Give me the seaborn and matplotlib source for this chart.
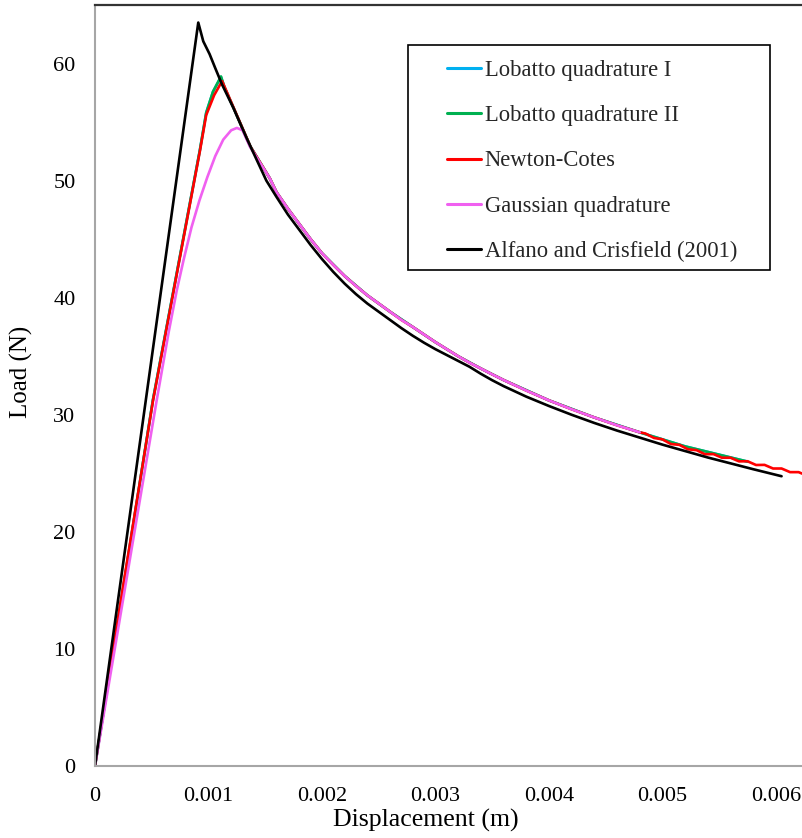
import matplotlib
matplotlib.use("Agg")
import matplotlib.pyplot as plt
import seaborn as sns
import pandas as pd
from matplotlib.patches import Rectangle

# Load-displacement curves (displacement in m, load in N)
lobatto1_x = [0.0, 0.000511, 0.000924, 0.00098, 0.00104, 0.00111, 0.00114,
              0.00137, 0.00154, 0.0016, 0.0017, 0.0018, 0.0019, 0.0020,
              0.0022, 0.0024, 0.0026, 0.0028, 0.0030, 0.0032, 0.0034,
              0.0036, 0.0040, 0.0044, 0.0048, 0.0052, 0.00575]
lobatto1_y = [0.0, 31.3, 52.6, 55.8, 57.6, 58.85, 58.0,
              52.9, 50.2, 49.0, 47.6, 46.3, 45.0, 43.8,
              41.85, 40.2, 38.8, 37.5, 36.2, 35.0, 33.95,
              32.97, 31.23, 29.77, 28.5, 27.3, 26.0]

lobatto2_x = [0.0, 0.000511, 0.000924, 0.00098, 0.00104, 0.00111, 0.00114,
              0.00137, 0.00154, 0.0016, 0.0017, 0.0018, 0.0019, 0.0020,
              0.0022, 0.0024, 0.0026, 0.0028, 0.0030, 0.0032, 0.0034,
              0.0036, 0.0040, 0.0044, 0.0048, 0.0052, 0.00575]
lobatto2_y = [0.0, 31.3, 52.6, 55.8, 57.6, 58.9, 58.0,
              52.9, 50.2, 49.0, 47.6, 46.3, 45.0, 43.8,
              41.85, 40.2, 38.8, 37.5, 36.2, 35.0, 33.95,
              32.97, 31.23, 29.77, 28.5, 27.3, 26.0]

newton_x = [0.0, 0.00025, 0.000511, 0.000924, 0.00098, 0.00105, 0.00112,
            0.00137, 0.00154, 0.0016, 0.0017, 0.0018, 0.0019, 0.0020,
            0.0021, 0.0022, 0.0023, 0.0024, 0.0025, 0.0026, 0.0027, 0.0028,
            0.0029, 0.0030, 0.0031, 0.0032, 0.0033, 0.0034, 0.0035, 0.0036,
            0.0038, 0.0040, 0.0042, 0.0044, 0.0046, 0.0048, 0.00485, 0.004925,
            0.0050, 0.005075, 0.00515, 0.005225, 0.0053, 0.005375, 0.00545,
            0.005525, 0.0056, 0.005675, 0.00575, 0.005825, 0.0059, 0.005975,
            0.00605, 0.006125, 0.0062, 0.00625]
newton_y = [0.0, 15.5, 31.2, 52.5, 55.6, 57.3, 58.5,
            52.9, 50.2, 49.0, 47.6, 46.3, 45.0, 43.8,
            42.8, 41.85, 41.0, 40.2, 39.5, 38.8, 38.1, 37.5,
            36.85, 36.2, 35.6, 35.0, 34.45, 33.95, 33.45, 32.97,
            32.07, 31.23, 30.47, 29.77, 29.1, 28.5, 28.4, 28.02,
            27.9, 27.5, 27.43, 27.05, 26.98, 26.63, 26.64,
            26.33, 26.33, 26.02, 26.03, 25.71, 25.72, 25.41,
            25.41, 25.10, 25.10, 24.90]

gauss_x = [0.0, 0.000543, 0.00065, 0.00072, 0.00078, 0.00085, 0.00092,
           0.00099, 0.00106, 0.00113, 0.0012, 0.00125, 0.0013, 0.001365,
           0.00154, 0.0016, 0.0017, 0.0018, 0.0019, 0.0020, 0.0021, 0.0022,
           0.0023, 0.0024, 0.0025, 0.0026, 0.0027, 0.0028, 0.0029, 0.0030,
           0.0031, 0.0032, 0.0033, 0.0034, 0.0035, 0.0036, 0.0038, 0.0040,
           0.0042, 0.0044, 0.0046, 0.0048]
gauss_y = [0.0, 31.2, 37.1, 40.6, 43.2, 46.0, 48.3,
           50.3, 52.1, 53.5, 54.3, 54.5, 54.3, 52.9,
           50.2, 49.0, 47.6, 46.3, 45.0, 43.8, 42.8, 41.85,
           41.0, 40.2, 39.5, 38.8, 38.1, 37.5, 36.85, 36.2,
           35.6, 35.0, 34.45, 33.95, 33.45, 32.97, 32.07, 31.23,
           30.47, 29.77, 29.1, 28.5]

alfano_x = [0.0, 0.00091, 0.000954, 0.00101, 0.00106, 0.00112, 0.00122,
            0.001335, 0.00151, 0.0016, 0.0017, 0.0018, 0.0019, 0.0020,
            0.0021, 0.0022, 0.0023, 0.0024, 0.0025, 0.0026, 0.0027, 0.0028,
            0.0029, 0.0030, 0.0031, 0.0032, 0.0033, 0.0034, 0.0035, 0.0036,
            0.0038, 0.0040, 0.0042, 0.0044, 0.0046, 0.0048, 0.0050, 0.0052,
            0.0054, 0.0056, 0.0058, 0.00605]
alfano_y = [0.0, 63.5, 61.9, 60.8, 59.6, 58.2, 56.2,
            53.65, 50.0, 48.6, 47.1, 45.8, 44.5, 43.3,
            42.2, 41.2, 40.3, 39.5, 38.8, 38.1, 37.4, 36.75,
            36.15, 35.6, 35.1, 34.6, 34.1, 33.5, 32.95, 32.45,
            31.55, 30.75, 30.0, 29.3, 28.65, 28.05, 27.45, 26.9,
            26.35, 25.85, 25.35, 24.75]

series_names = ["Lobatto quadrature I", "Lobatto quadrature II", "Newton-Cotes",
                "Gaussian quadrature", "Alfano and Crisfield (2001)"]
series_colors = ["#00b0f0", "#00b050", "#ff0000", "#f060f0", "#000000"]

x_ticks = [0.0, 0.001, 0.002, 0.003, 0.004, 0.005, 0.006]
x_tick_labels = ["0", "0.001", "0.002", "0.003", "0.004", "0.005", "0.006"]
y_ticks = [0, 10, 20, 30, 40, 50, 60]

frames = []
for name, xs, ys in zip(series_names,
                        [lobatto1_x, lobatto2_x, newton_x, gauss_x, alfano_x],
                        [lobatto1_y, lobatto2_y, newton_y, gauss_y, alfano_y]):
    frames.append(pd.DataFrame({"Displacement": xs, "Load": ys, "Series": name}))
df = pd.concat(frames, ignore_index=True)

sns.set_theme(style="white")
plt.rcParams["font.family"] = ["Liberation Serif", "DejaVu Serif"]

fig = plt.figure(figsize=(8.02, 8.38), dpi=100)
ax = fig.add_axes([95 / 802, 1 - 766 / 838, 707 / 802, 761 / 838])

sns.lineplot(data=df, x="Displacement", y="Load", hue="Series",
             hue_order=series_names, palette=series_colors,
             sort=False, estimator=None, linewidth=1.9, ax=ax, legend=False)

ax.set_xlim(0, 0.00623)
ax.set_ylim(0, 65)
ax.set_xticks(x_ticks)
ax.set_xticklabels(x_tick_labels)
ax.set_yticks(y_ticks)
ax.tick_params(axis="both", length=0, labelsize=16, colors="#000000")
ax.tick_params(axis="x", pad=15)
ax.tick_params(axis="y", pad=14)

ax.set_xlabel("Displacement (m)", fontsize=18.6, color="#000000")
ax.set_ylabel("Load (N)", fontsize=18, color="#000000")
ax.xaxis.set_label_coords((426 - 95) / 707, -0.056)
ax.yaxis.set_label_coords((33 - 95) / 707, (766 - 372) / 761)

for side in ["left", "bottom"]:
    ax.spines[side].set_color("#a6a6a6")
    ax.spines[side].set_linewidth(1.5)
ax.spines["top"].set_color("#333333")
ax.spines["top"].set_linewidth(1.6)
ax.spines["right"].set_visible(False)

# Legend: entries plus a framed box
handles = [plt.Line2D([0], [0], color=c, linewidth=2.2) for c in series_colors]
leg = ax.legend(handles, series_names, loc="upper left",
                bbox_to_anchor=((447 - 95) / 707, (766 - 60) / 761),
                frameon=False, fontsize=16.3, borderpad=0, borderaxespad=0,
                handlelength=1.48, handletextpad=0.18, labelspacing=1.07)
ax.add_patch(Rectangle(((408 - 95) / 707, (766 - 270) / 761),
                       (770 - 408) / 707, (270 - 45) / 761,
                       transform=ax.transAxes, fill=False,
                       edgecolor="#000000", linewidth=1.2, zorder=5))

fig.savefig("out.png", dpi=100)
